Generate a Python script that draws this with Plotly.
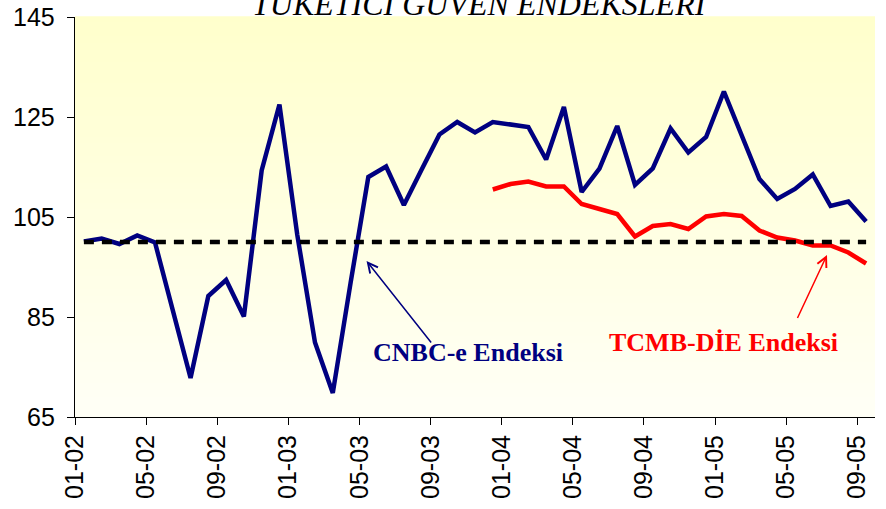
import plotly.graph_objects as go

months = ["01-02","02-02","03-02","04-02","05-02","06-02","07-02","08-02","09-02","10-02","11-02","12-02",
          "01-03","02-03","03-03","04-03","05-03","06-03","07-03","08-03","09-03","10-03","11-03","12-03",
          "01-04","02-04","03-04","04-04","05-04","06-04","07-04","08-04","09-04","10-04","11-04","12-04",
          "01-05","02-05","03-05","04-05","05-05","06-05","07-05","08-05","09-05"]

cnbc = [100.1, 100.7, 99.6, 101.3, 99.9, 86.5, 72.8, 89.2, 92.4, 85.1, 114.3, 127.5,
        101.5, 79.9, 69.8, 91.8, 113.0, 115.1, 107.4, 114.5, 121.5, 124.0, 121.9, 124.0,
        123.6, 123.0, 116.5, 127.0, 110.0, 114.7, 123.2, 111.4, 114.7, 122.7, 117.9, 121.0,
        130.1, 121.3, 112.6, 108.6, 110.6, 113.5, 107.2, 108.1, 104.1]

tcmb = [None]*23 + [110.5, 111.6, 112.1, 111.1, 111.1, 107.6, 106.6, 105.6, 101.1, 103.2, 103.6,
                    102.6, 105.1, 105.6, 105.2, 102.3, 100.9, 100.3, 99.3, 99.3, 97.9, 95.7]

baseline = [100]*45

tick_labels = ["01-02","05-02","09-02","01-03","05-03","09-03","01-04","05-04","09-04","01-05","05-05","09-05"]
y_ticks = [65, 85, 105, 125, 145]

x = list(range(len(months)))
tick_pos = [months.index(t) - 0.5 for t in tick_labels]

fig = go.Figure()
fig.add_trace(go.Scatter(x=x, y=cnbc, mode="lines", line=dict(color="#000080", width=4.5),
                         name="CNBC-e Endeksi", hoverinfo="skip"))
fig.add_trace(go.Scatter(x=x, y=tcmb, mode="lines", line=dict(color="#FF0000", width=4.5),
                         name="TCMB-DİE Endeksi", connectgaps=False, hoverinfo="skip"))
fig.add_trace(go.Scatter(x=x, y=baseline, mode="lines",
                         line=dict(color="#000000", width=4.5, dash="10px,8px"),
                         name="100", hoverinfo="skip"))

# gradient background for plot area
shapes = []
n = 60
top = (255, 255, 204)
bot = (255, 255, 246)
for k in range(n):
    t = k / (n - 1)
    c = tuple(round(top[j] + (bot[j] - top[j]) * t) for j in range(3))
    shapes.append(dict(type="rect", xref="x domain", yref="y domain",
                       x0=0, x1=1, y0=1 - (k + 1) / n, y1=1 - k / n + 0.002,
                       fillcolor="rgb(%d,%d,%d)" % c, line=dict(width=0), layer="below"))

annotations = [
    dict(text="<i>TÜKETİCİ GÜVEN ENDEKSLERİ</i>", xref="paper", yref="paper", x=0.505, y=1.0,
         xanchor="center", yanchor="bottom", yshift=-7, showarrow=False,
         font=dict(family="Liberation Serif", size=32, color="black")),
    dict(text="<b>CNBC-e Endeksi</b>", xref="x", yref="y", x=21.6, y=77.9, showarrow=False,
         font=dict(family="Liberation Serif", size=26, color="#000080")),
    dict(text="<b>TCMB-DİE Endeksi</b>", xref="x", yref="y", x=36.0, y=79.9, showarrow=False,
         font=dict(family="Liberation Serif", size=26, color="#FF0000")),
    dict(text="", xref="x", yref="y", x=15.9, y=96.2, axref="x", ayref="y", ax=19.6, ay=79.6,
         showarrow=True, arrowhead=5, arrowsize=1.3, arrowwidth=1.5, arrowcolor="#000080"),
    dict(text="", xref="x", yref="y", x=41.8, y=97.4, axref="x", ayref="y", ax=40.1, ay=84.5,
         showarrow=True, arrowhead=5, arrowsize=1.3, arrowwidth=1.5, arrowcolor="#FF0000"),
]
# y tick labels placed close to the axis
for v in y_ticks:
    annotations.append(dict(text=str(v), xref="paper", yref="y", x=0, y=v, xanchor="right",
                            yanchor="middle", xshift=-18, showarrow=False,
                            font=dict(family="Liberation Sans", size=25, color="black")))

fig.update_layout(
    width=886, height=509,
    margin=dict(l=75, r=11, t=17, b=92, autoexpand=False),
    paper_bgcolor="white", plot_bgcolor="white",
    showlegend=False,
    shapes=shapes,
    annotations=annotations,
    font=dict(family="Liberation Sans", size=25, color="black"),
)
fig.update_xaxes(range=[-0.5, 44.5], tickmode="array", tickvals=tick_pos, ticktext=tick_labels,
                 tickangle=-90, ticks="outside", ticklen=7, tickcolor="black", tickwidth=1,
                 showline=True, linecolor="black", linewidth=1, showgrid=False, zeroline=False,
                 automargin=False,
                 tickfont=dict(family="Liberation Sans", size=25, color="black"))
fig.update_yaxes(range=[65, 145], tickmode="array", tickvals=y_ticks, showticklabels=False,
                 ticks="outside", ticklen=7, tickcolor="black", tickwidth=1,
                 showline=True, linecolor="black", linewidth=1, showgrid=False, zeroline=False,
                 automargin=False)

fig.write_html("out.html", config={"displayModeBar": False},
               post_script="document.body.style.margin='0';document.body.style.overflow='hidden';")
